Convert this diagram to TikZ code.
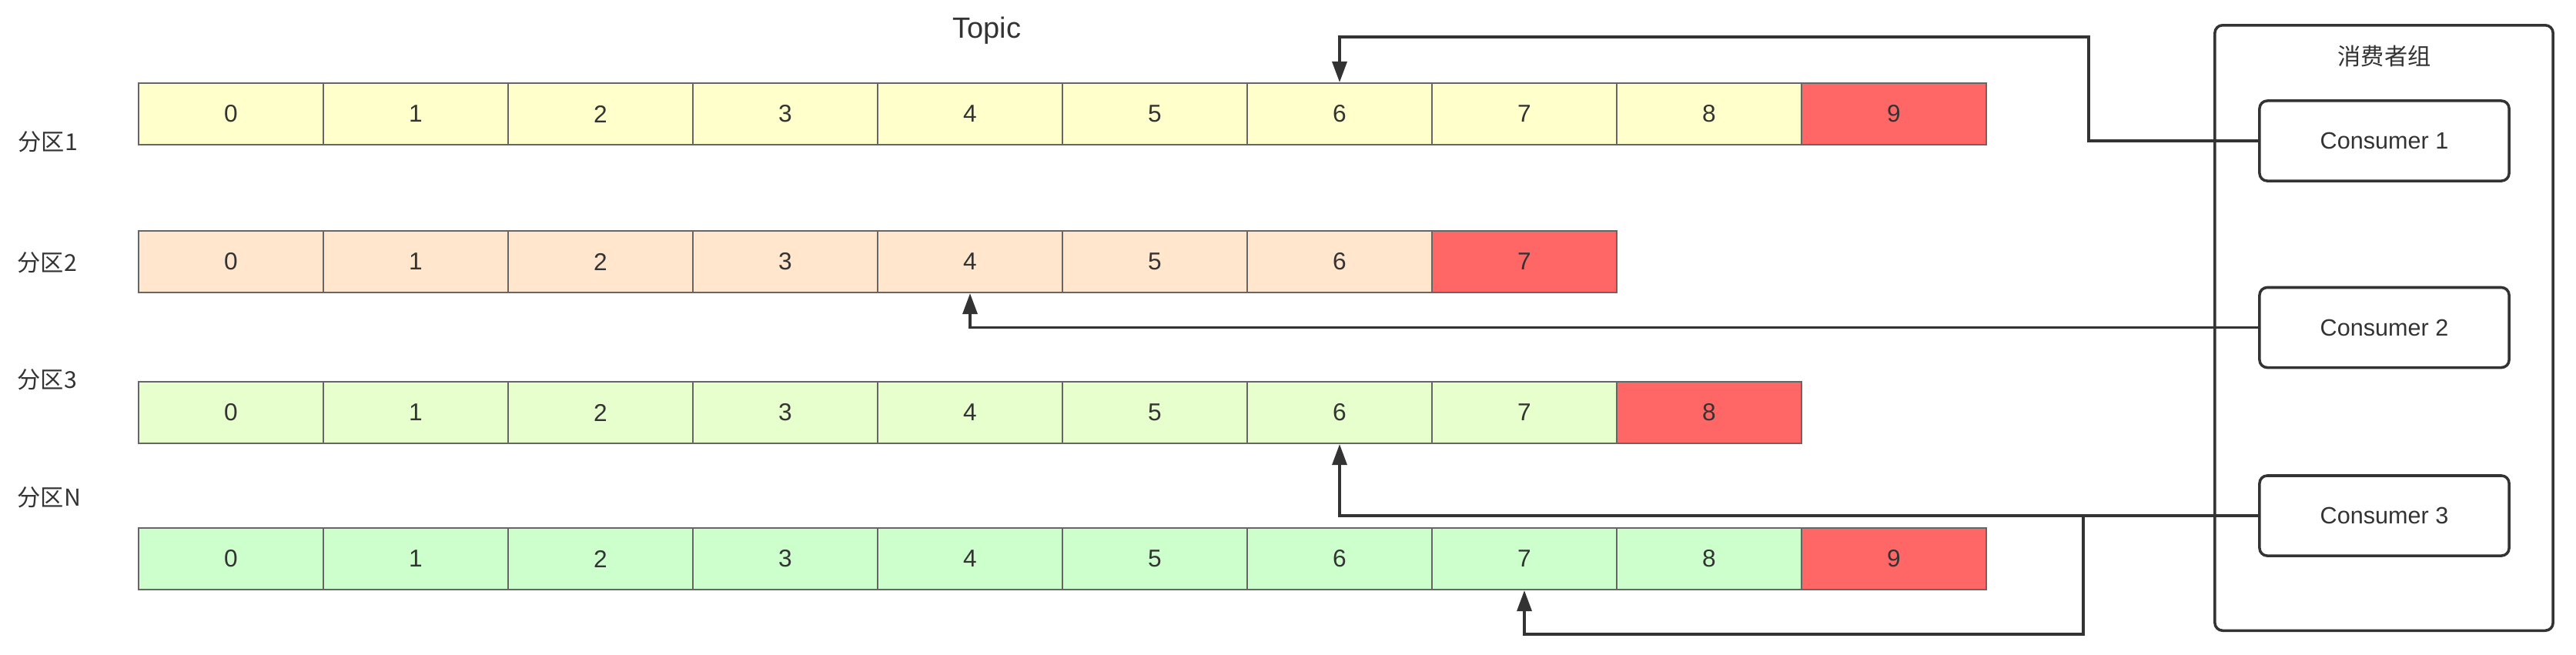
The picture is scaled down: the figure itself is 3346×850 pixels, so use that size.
\documentclass[tikz,border=0pt]{standalone}
\usepackage{fontspec}
\setmainfont{Liberation Sans}
\newfontfamily\cjk{Noto Sans CJK SC}
\usetikzlibrary{arrows.meta,positioning,calc}
\definecolor{ink}{HTML}{333333}
\definecolor{edge}{HTML}{666666}
\definecolor{rowA}{HTML}{FFFFCC}
\definecolor{rowB}{HTML}{FFE6CC}
\definecolor{rowC}{HTML}{E6FFCC}
\definecolor{rowD}{HTML}{CCFFCC}
\definecolor{hot}{HTML}{FF6666}

\begin{document}
\begin{tikzpicture}[x=0.01cm, y=-0.01cm,
    cell/.style={rectangle, draw=edge, line width=0.6pt, minimum width=2.4cm, minimum height=0.8cm, inner sep=0pt, text=ink, font=\fontsize{9}{11}\selectfont},
    consumer/.style={rectangle, draw=ink, line width=1pt, rounded corners=0.1cm, minimum width=3.24cm, minimum height=1.04cm, text=ink, font=\fontsize{8.7}{10}\selectfont},
    part/.style={anchor=west, inner sep=0pt, text=ink, font=\cjk\fontsize{8.6}{10}\selectfont},
    link/.style={draw=ink, line width=1pt, -{Triangle[length=2.7mm, width=1.9mm]}}]

    \useasboundingbox (0,0) rectangle (3346,850);

    % Topic title
    \node[text=ink, font=\fontsize{10.8}{12}\selectfont] (topic) at (1282,40) {Topic};

    % Partition 1
    \node[part] (p1) at (23,184) {分区1};
    \foreach \i in {0,...,8}
        \node[cell, fill=rowA] (r1c\i) at ({300+240*\i},148) {\i};
    \node[cell, fill=hot] (r1c9) at (2460,148) {9};

    % Partition 2
    \node[part] (p2) at (22,341) {分区2};
    \foreach \i in {0,...,6}
        \node[cell, fill=rowB] (r2c\i) at ({300+240*\i},340) {\i};
    \node[cell, fill=hot] (r2c7) at (1980,340) {7};

    % Partition 3
    \node[part] (p3) at (22,493) {分区3};
    \foreach \i in {0,...,7}
        \node[cell, fill=rowC] (r3c\i) at ({300+240*\i},536) {\i};
    \node[cell, fill=hot] (r3c8) at (2220,536) {8};

    % Partition N
    \node[part] (p4) at (22,646) {分区N};
    \foreach \i in {0,...,8}
        \node[cell, fill=rowD] (r4c\i) at ({300+240*\i},726) {\i};
    \node[cell, fill=hot] (r4c9) at (2460,726) {9};

    % Consumer group
    \node[rectangle, draw=ink, line width=1pt, rounded corners=0.1cm, minimum width=4.39cm, minimum height=7.86cm] (group) at (3096.5,426) {};
    \node[text=ink, font=\cjk\fontsize{8.6}{10}\selectfont] (gtitle) at (3097,73) {消费者组};
    \node[consumer] (c1) at (3097,183) {Consumer 1};
    \node[consumer] (c2) at (3097,425.5) {Consumer 2};
    \node[consumer] (c3) at (3097,670) {Consumer 3};

    % Offsets read by each consumer
    \coordinate (t1) at (2713,48);
    \coordinate (j3) at (2706,824);
    \draw[link] (c1.west) -| (t1) -| (r1c6.north);
    \draw[link] (c2.west) -| (r2c4.south);
    \draw[link] (c3.west) -| (r3c6.south);
    \draw[link] (c3.west) -| (j3) -| (r4c7.south);
\end{tikzpicture}
\end{document}
